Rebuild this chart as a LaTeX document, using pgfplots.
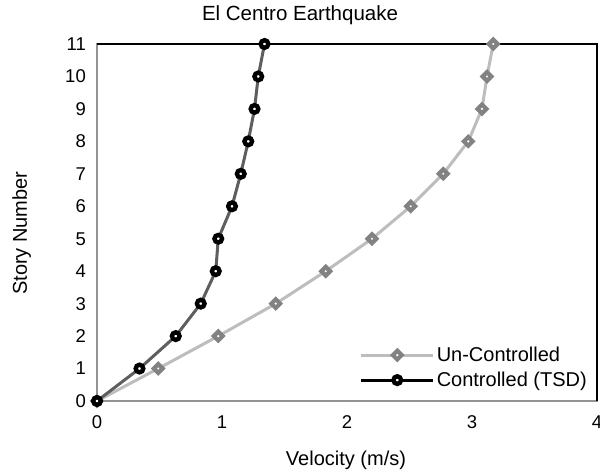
\documentclass[border=0pt]{standalone}
\usepackage{pgfplots}
\pgfplotsset{compat=1.18}
\usepackage{fontspec}
\setmainfont{Liberation Sans}
\definecolor{ucline}{HTML}{BDBDBD}
\definecolor{ucmark}{HTML}{828282}
\definecolor{cline}{HTML}{5E5E5E}
\begin{document}
\begin{tikzpicture}
\begin{axis}[
  scale only axis,
  width=500pt, height=357pt,
  xmin=0, xmax=4, ymin=0, ymax=11,
  xtick={0,1,2,3,4}, ytick={0,1,...,11},
  major tick length=0pt,
  axis line style={color=gray!85, line width=1.5pt},
  tick label style={font=\fontsize{18.5}{20}\selectfont},
  xticklabel style={anchor=base, yshift=-27pt, inner sep=0pt},
  yticklabel style={anchor=east, xshift=-11pt, inner sep=0pt},
  /pgf/number format/assume math mode=true,
  xlabel={Velocity (m/s)}, ylabel={Story Number},
  xlabel style={font=\fontsize{20}{22}\selectfont, at={(axis description cs:0.498,0)}, anchor=base, yshift=-64pt, inner sep=0pt},
  ylabel style={font=\fontsize{20}{22}\selectfont, at={(axis description cs:-0.14,0.47)}, anchor=base, inner sep=0pt},
  title={El Centro Earthquake},
  title style={font=\fontsize{20.5}{22}\selectfont, at={(axis description cs:0.406,1)}, anchor=base, yshift=17pt, inner sep=0pt},
  clip=false,
  legend style={at={(axis description cs:0.984,0.03)}, anchor=south east, draw=none, fill=none,
    inner sep=0pt, font=\fontsize{20}{22}\selectfont, row sep=5pt},
  legend cell align=left,
  legend image code/.code={\draw[#1] (0pt,0pt) -- (72pt,0pt);
    \draw[#1, mark repeat=2, mark phase=2] plot coordinates {(0pt,0pt) (36pt,0pt) (72pt,0pt)};},
]
\draw[black, line width=1.6pt] (rel axis cs:0,1) -- (rel axis cs:1,1) -- (rel axis cs:1,0);
\addlegendimage{ucline, line width=3pt, mark=square*, mark options={rotate=45, fill=white, draw=ucmark, line width=4.2pt, solid}, mark size=3.1pt}
\addlegendentry{Un-Controlled}
\addlegendimage{black, line width=3pt, mark=*, mark options={fill=white, draw=black, line width=4.4pt, solid}, mark size=3.8pt}
\addlegendentry{Controlled (TSD)}
\addplot[ucline, line width=3pt, mark=square*, mark options={rotate=45, fill=white, draw=ucmark, line width=4.2pt}, mark size=3.1pt, forget plot]
coordinates {(0,0) (0.49,1) (0.97,2) (1.43,3) (1.83,4) (2.20,5) (2.51,6) (2.77,7) (2.97,8) (3.08,9) (3.12,10) (3.17,11)};
\addplot[cline, line width=3pt, mark=*, mark options={fill=white, draw=black, line width=4.4pt}, mark size=3.8pt, forget plot]
coordinates {(0,0) (0.34,1) (0.63,2) (0.83,3) (0.95,4) (0.97,5) (1.08,6) (1.15,7) (1.21,8) (1.26,9) (1.29,10) (1.34,11)};
\end{axis}
\pgfresetboundingbox
\path[use as bounding box] (-97pt,-71pt) rectangle (503pt,401pt);
\end{tikzpicture}
\end{document}
